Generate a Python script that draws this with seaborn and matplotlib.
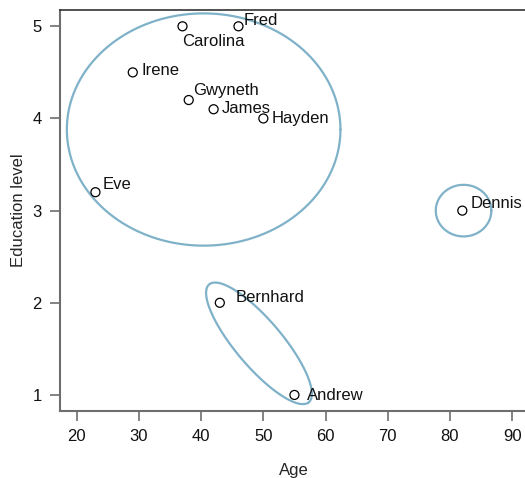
import numpy as np
import pandas as pd
import seaborn as sns
import matplotlib
matplotlib.use("Agg")
import matplotlib.pyplot as plt

# people, age and education level
names = ['Fred', 'Carolina', 'Irene', 'Gwyneth', 'James', 'Hayden',
         'Eve', 'Dennis', 'Bernhard', 'Andrew']
age = [46, 37, 29, 38, 42, 50, 23, 82, 43, 55]
edu = [5.0, 5.0, 4.5, 4.2, 4.1, 4.0, 3.2, 3.0, 2.0, 1.0]

# cluster outlines: centre and two half-axis vectors, in data units
ell_centre = [(40.4, 3.88), (82.2, 3.0), (49.3, 1.56)]
ell_u = [(22.0, 0.0), (4.47, 0.0), (8.0, -0.64)]
ell_v = [(0.0, 1.26), (0.0, 0.28), (-2.9, -0.16)]

# label offsets in pixels (style, not data)
offs = {'Fred': (5, -2), 'Carolina': (0, -23), 'Irene': (9, -6),
        'Gwyneth': (4, 2), 'James': (8, -7), 'Hayden': (8, -8),
        'Eve': (7, 0), 'Dennis': (8, 0), 'Bernhard': (16, -2),
        'Andrew': (13, -8)}

sns.set_style('white')
plt.rcParams['font.family'] = ['Liberation Sans', 'DejaVu Sans']

df = pd.DataFrame({'name': names, 'Age': age, 'Education level': edu})

fig = plt.figure(figsize=(5.25, 4.78), dpi=100)
ax = fig.add_axes([0.1143, 0.1402, 0.8895, 0.8389])

ring = '#7fb2c9'
t = np.linspace(0, 2 * np.pi, 300)
for (cx, cy), (ux, uy), (vx, vy) in zip(ell_centre, ell_u, ell_v):
    ax.plot(cx + ux * np.cos(t) + vx * np.sin(t),
            cy + uy * np.cos(t) + vy * np.sin(t),
            color=ring, lw=1.6, zorder=1)

sns.scatterplot(data=df, x='Age', y='Education level', ax=ax,
                s=42, facecolor='none', edgecolor='black', linewidth=0.9,
                zorder=3)

for n, a, e in zip(names, age, edu):
    ax.annotate(n, (a, e), xytext=offs[n], textcoords='offset pixels',
                ha='left', va='bottom', fontsize=12, color='#111111')

ax.set_xlim(17.3, 92.4)
ax.set_ylim(0.826, 5.177)
ax.set_xticks([20, 30, 40, 50, 60, 70, 80, 90])
ax.set_yticks([1, 2, 3, 4, 5])
ax.set_xlabel('Age', fontsize=12, labelpad=14)
ax.set_ylabel('Education level', fontsize=12, labelpad=5)

for s in ['left', 'bottom']:
    ax.spines[s].set_color('#6e6e6e')
    ax.spines[s].set_linewidth(1.5)
ax.spines['top'].set_color('#333333')
ax.spines['top'].set_linewidth(1.2)
ax.spines['right'].set_visible(False)
ax.tick_params(axis='both', direction='out', length=7, width=1.2,
               color='#6e6e6e', labelsize=12, labelcolor='#111111',
               bottom=True, left=True, pad=6)

fig.savefig('out.png', dpi=100)
